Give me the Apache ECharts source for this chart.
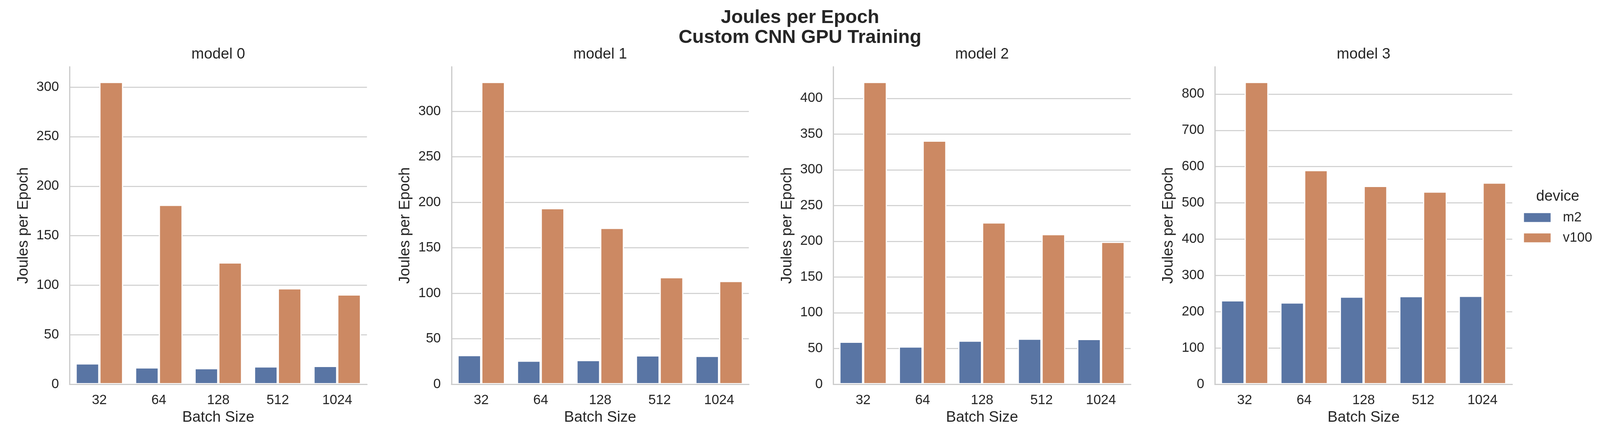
<!DOCTYPE html>
<html>
<head>
<meta charset="utf-8">
<script src="https://cdn.jsdelivr.net/npm/echarts@6/dist/echarts.min.js"></script>
<style>
html,body{margin:0;padding:0;background:#fff;overflow:hidden;}
#chart{width:100vw;height:100vh;}
</style>
</head>
<body>
<div id="chart"></div>
<script>
// ---- data ----
const categories = ['32', '64', '128', '512', '1024'];
const panelTitles = ['model 0', 'model 1', 'model 2', 'model 3'];
const devices = ['m2', 'v100'];
const m2Model0 = [21.1, 17.1, 16.3, 18.0, 18.5];
const v100Model0 = [305.3, 181.2, 123.0, 96.9, 90.7];
const m2Model1 = [32.1, 26.0, 26.6, 31.8, 31.2];
const v100Model1 = [332.4, 193.6, 171.9, 117.7, 113.5];
const m2Model2 = [59.5, 52.9, 61.1, 63.8, 63.4];
const v100Model2 = [423.0, 340.9, 226.5, 210.1, 199.2];
const m2Model3 = [231.6, 225.5, 241.6, 243.1, 243.9];
const v100Model3 = [833.6, 590.5, 546.8, 531.4, 556.0];
const yTickSteps = [50, 50, 50, 100];
const m2Sets = [m2Model0, m2Model1, m2Model2, m2Model3];
const v100Sets = [v100Model0, v100Model1, v100Model2, v100Model3];

// ---- layout (designed for a 4504x1114 page, scaled to the real viewport) ----
const SX = window.innerWidth / 4504;
const SY = window.innerHeight / 1114;
const S = Math.min(SX, SY);
const X = v => v * SX, Y = v => v * SY, F = v => v * S;

const FONT = "'Liberation Sans', Arial, Helvetica, sans-serif";
const TXT = '#262626';
const GRIDC = '#cccccc';
const gridLefts = [196, 1271, 2346, 3420];
const gridTop = 171, gridW = 837, gridH = 813;
const colors = ['#5975a4', '#cc8963'];
const LABEL_FS = 42.5, TICK_FS = 38;

const grids = [], xAxes = [], yAxes = [], series = [], titles = [];

titles.push({
  text: 'Joules per Epoch\nCustom CNN GPU Training',
  left: X(2252), top: Y(71), textAlign: 'center', textVerticalAlign: 'middle', padding: 0,
  textStyle: {fontFamily: FONT, fontSize: F(53.5), fontWeight: 'bold', color: TXT, lineHeight: F(56.5)}
});
titles.push({
  text: 'device', left: X(4385), top: Y(503), textAlign: 'center', textVerticalAlign: 'middle', padding: 0,
  textStyle: {fontFamily: FONT, fontSize: F(42), fontWeight: 'normal', color: TXT}
});

panelTitles.forEach((t, i) => {
  const step = yTickSteps[i];
  const ymax = Math.max(...m2Sets[i], ...v100Sets[i]) * 1.05;
  grids.push({left: X(gridLefts[i]), top: Y(gridTop), width: X(gridW), height: Y(gridH), containLabel: false});
  titles.push({
    text: t, left: X(gridLefts[i] + gridW / 2), top: Y(139.5), textAlign: 'center', textVerticalAlign: 'middle', padding: 0,
    textStyle: {fontFamily: FONT, fontSize: F(LABEL_FS), fontWeight: 'normal', color: TXT}
  });
  xAxes.push({
    type: 'category', gridIndex: i, data: categories, z: 5,
    axisTick: {show: false},
    axisLine: {show: true, lineStyle: {color: GRIDC, width: F(3.5)}},
    axisLabel: {fontFamily: FONT, fontSize: F(TICK_FS), color: TXT, margin: F(26)},
    name: 'Batch Size', nameLocation: 'middle', nameGap: F(72.75),
    nameTextStyle: {fontFamily: FONT, fontSize: F(LABEL_FS), color: TXT}
  });
  yAxes.push({
    type: 'value', gridIndex: i, min: 0, max: ymax, interval: step,
    axisTick: {show: false},
    axisLine: {show: true, lineStyle: {color: GRIDC, width: F(3.5)}},
    splitLine: {show: true, showMaxLine: false, lineStyle: {color: GRIDC, width: F(3)}},
    axisLabel: {
      fontFamily: FONT, fontSize: F(TICK_FS), color: TXT, margin: F(30), showMaxLabel: false,
      formatter: v => (Math.abs(v / step - Math.round(v / step)) < 1e-6 ? String(v) : '')
    },
    name: 'Joules per Epoch', nameLocation: 'middle', nameGap: F(108.75), nameRotate: 90,
    nameTextStyle: {fontFamily: FONT, fontSize: F(LABEL_FS), color: TXT}
  });
  [m2Sets[i], v100Sets[i]].forEach((vals, d) => {
    series.push({
      name: devices[d], type: 'bar', xAxisIndex: i, yAxisIndex: i,
      data: vals, barWidth: '40%', barGap: '0%',
      itemStyle: {color: colors[d], borderColor: '#ffffff', borderWidth: F(3.3)},
      emphasis: {disabled: true},
      animation: false
    });
  });
});

const chart = echarts.init(document.getElementById('chart'), null, {renderer: 'canvas'});
chart.setOption({
  backgroundColor: '#ffffff',
  animation: false,
  title: titles,
  grid: grids,
  xAxis: xAxes,
  yAxis: yAxes,
  legend: {
    data: devices, orient: 'vertical', left: X(4290), top: Y(539.5), padding: 0,
    itemWidth: F(75), itemHeight: F(25), itemGap: F(18), icon: 'rect',
    itemStyle: {borderWidth: 0},
    textStyle: {fontFamily: FONT, fontSize: F(TICK_FS), color: TXT, lineHeight: F(39), padding: [0, 0, 0, F(29)]}
  },
  series: series
});
</script>
</body>
</html>
